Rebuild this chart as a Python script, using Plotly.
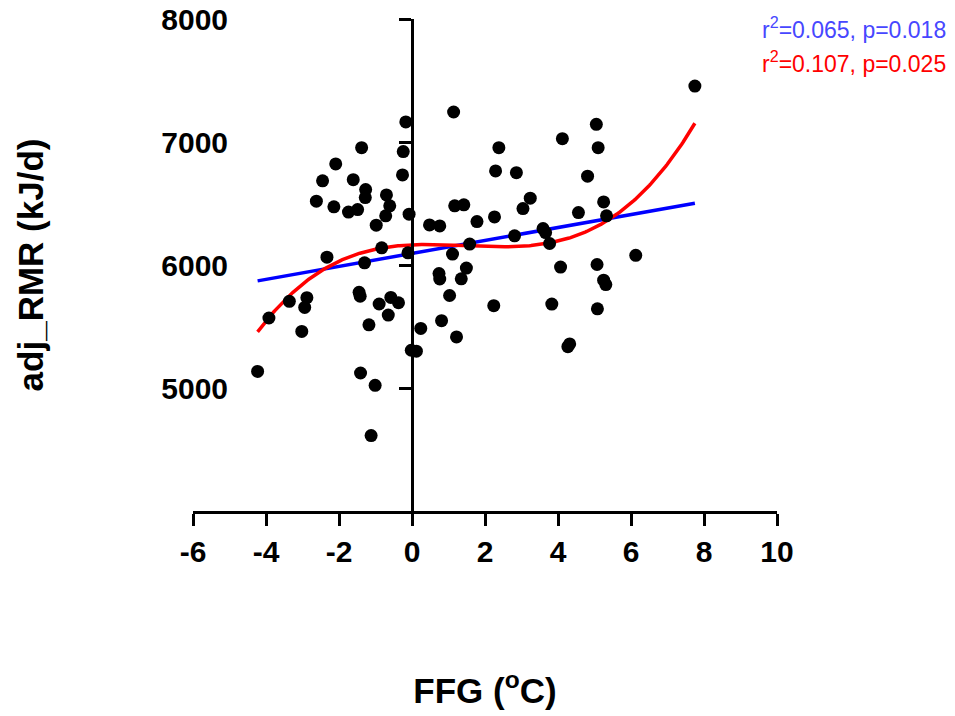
import numpy as np
import plotly.graph_objects as go

# Foot-finger temperature gradient (FFG, degC) vs adjusted resting metabolic rate (kJ/d)
ffg = [-0.17, -1.38, -0.24, -2.09, -2.45, -1.61, -0.26, -1.27, -1.28, -0.70,
       -2.62, -2.14, -1.74, -1.49, -0.61, -0.72, -0.08, -0.98, -0.83, -0.11,
       -2.33, -1.30, -3.36, -2.88, -1.45, -1.42, -0.90, -0.58, -0.37, -2.94,
       -3.92, -3.02, -4.23, -0.65, -1.18, -0.02, -1.41, -1.01, -1.12,
       1.14, 2.38, 4.12, 5.05, 5.10, 2.29, 2.86, 4.81, 3.24, 3.04, 1.17,
       1.42, 4.56, 5.25, 0.48, 0.76, 1.78, 2.26, 3.59, 3.66, 2.81,
       3.77, 1.58, 1.11, 1.49, 0.74, 0.76, 1.35, 4.07, 5.07, 1.03,
       2.24, 3.83, 5.25, 5.31, 5.08, 0.24, 0.81, 1.22, 4.32, 4.27,
       5.33, 6.13, 7.75, 0.12]
adj_rmr = [7163, 6954, 6922, 6822, 6684, 6694, 6732, 6613, 6548, 6570,
           6519, 6473, 6430, 6451, 6481, 6400, 6413, 6324, 6140, 6099,
           6064, 6018, 5705, 5734, 5778, 5746, 5683, 5736, 5693, 5655,
           5569, 5460, 5135, 5593, 5514, 5307, 5122, 5022, 4613,
           7244, 6954, 7027, 7144, 6954, 6765, 6751, 6722, 6543, 6459, 6481,
           6489, 6426, 6513, 6326, 6318, 6353, 6391, 6296, 6264, 6237,
           6175, 6170, 6089, 5975, 5931, 5886, 5888, 5983, 6004, 5752,
           5669, 5682, 5877, 5841, 5644, 5484, 5547, 5415, 5358, 5336,
           6400, 6079, 7455, 5299]

# Fitted models (coefficients highest order first) and their span
linear_coef = [52.7, 6094.0]
cubic_coef = [4.288, -18.42, 12.69, 6164.0]
fit_span = (min(ffg), max(ffg))

x_ticks = [-6, -4, -2, 0, 2, 4, 6, 8, 10]
x_ticktext = ["-6", "-4", "-2", "0", "2", "4", "6", "8", "10"]
y_ticks = [5000, 6000, 7000, 8000]
stats = [("r<sup>2</sup>=0.065, p=0.018", "#4747ff"),
         ("r<sup>2</sup>=0.107, p=0.025", "#ff0000")]

FONT = "Liberation Sans, Arial, sans-serif"

xs = np.linspace(fit_span[0], fit_span[1], 300)

fig = go.Figure()
fig.add_trace(go.Scatter(x=xs, y=np.polyval(linear_coef, xs), mode="lines",
                         line=dict(color="#0000ff", width=3.5), hoverinfo="skip"))
fig.add_trace(go.Scatter(x=xs, y=np.polyval(cubic_coef, xs), mode="lines",
                         line=dict(color="#ff0000", width=3.5), hoverinfo="skip"))
fig.add_trace(go.Scatter(x=ffg, y=adj_rmr, mode="markers",
                         marker=dict(color="black", size=13)))

axis_common = dict(showgrid=False, zeroline=False, automargin=False)

fig.update_layout(
    width=955, height=716,
    margin=dict(l=193, r=178, t=19, b=205),
    plot_bgcolor="white", paper_bgcolor="white",
    showlegend=False,
    font=dict(family=FONT, color="black"),
    xaxis=dict(range=[-6, 10], tickvals=x_ticks, ticktext=x_ticktext, showline=True,
               linecolor="black", linewidth=3, ticks="outside", ticklen=12, tickwidth=3,
               tickcolor="black", tickfont=dict(size=30, weight="bold"),
               title=dict(text="FFG (<sup>o</sup>C)", font=dict(size=35, weight="bold"),
                          standoff=112),
               **axis_common),
    # y axis line crossing at FFG = 0
    yaxis=dict(range=[4000, 8000], tickvals=y_ticks, anchor="free", position=0.375,
               showline=True, linecolor="black", linewidth=3, ticks="outside",
               ticklen=12, tickwidth=3, tickcolor="black", showticklabels=False,
               **axis_common),
    # tick labels and title sit at the left edge
    yaxis2=dict(range=[4000, 8000], tickvals=y_ticks, overlaying="y", anchor="free",
                position=0.06, side="left", showline=False, ticks="",
                tickfont=dict(size=30, weight="bold"),
                title=dict(text="adj_RMR (kJ/d)", font=dict(size=35, weight="bold"),
                           standoff=106),
                **axis_common),
)

# empty trace so the label axis is rendered
fig.add_trace(go.Scatter(x=[None], y=[None], yaxis="y2", showlegend=False))

for i, (txt, col) in enumerate(stats):
    fig.add_annotation(text=txt, xref="paper", yref="paper",
                       x=1.2923, y=0.981 - i * 0.069, xanchor="right", yanchor="middle",
                       showarrow=False, font=dict(family=FONT, size=23, color=col))

fig.write_html("out.html")
